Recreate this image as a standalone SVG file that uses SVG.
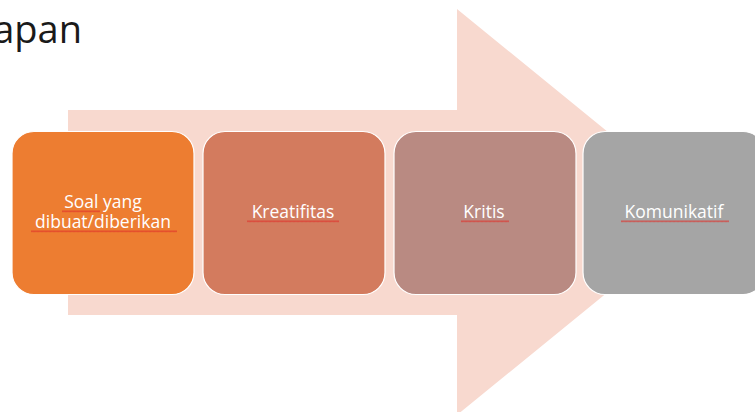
<svg xmlns="http://www.w3.org/2000/svg" width="755" height="412" viewBox="0 0 755 412">
<style>
.box{stroke:#ffffff;stroke-width:1.2}
.lbl{font-family:"Open Sans","DejaVu Sans",sans-serif;font-size:17.5px;fill:#ffffff;text-anchor:middle}
.title{font-family:"Open Sans","DejaVu Sans",sans-serif;font-size:38px;fill:#1a1a1a;text-anchor:end}
.sq{fill:url(#wave)}
</style>
<defs>
<pattern id="wave" width="4" height="2.5" patternUnits="userSpaceOnUse">
<path d="M0 2 L1 0.5 L2 2 L3 0.5 L4 2" fill="none" stroke="#e0302a" stroke-width="0.7"/>
</pattern>
</defs>
<rect width="755" height="412" fill="#ffffff"/>
<text class="title" x="82" y="43">apan</text>
<g id="arrow">
<polygon points="68,110 457,110 457,9 706,212 457,415 457,315 68,315" fill="#f8d9cf"/>
</g>
<g id="node1">
<rect class="box" x="12" y="131.5" width="182" height="163" rx="22" fill="#ed7d31"/>
<text class="lbl" x="103" y="208"><tspan x="103" y="208">Soal yang</tspan><tspan x="103" y="228">dibuat/diberikan</tspan></text>
<rect class="sq" x="62" y="210" width="38" height="2.5"/>
<rect class="sq" x="31" y="230" width="146" height="2.5"/>
</g>
<g id="node2">
<rect class="box" x="203" y="131.5" width="182" height="163" rx="22" fill="#d37b5e"/>
<text class="lbl" x="293" y="218">Kreatifitas</text>
<rect class="sq" x="247" y="220" width="92" height="2.5"/>
</g>
<g id="node3">
<rect class="box" x="394" y="131.5" width="182" height="163" rx="22" fill="#b98a82"/>
<text class="lbl" x="484" y="218">Kritis</text>
<rect class="sq" x="461" y="220" width="48" height="2.5"/>
</g>
<g id="node4">
<rect class="box" x="583" y="131.5" width="182" height="163" rx="22" fill="#a5a5a5"/>
<text class="lbl" x="674" y="218">Komunikatif</text>
<rect class="sq" x="621" y="220" width="108" height="2.5"/>
</g>
<g id="connectors"></g>
</svg>
